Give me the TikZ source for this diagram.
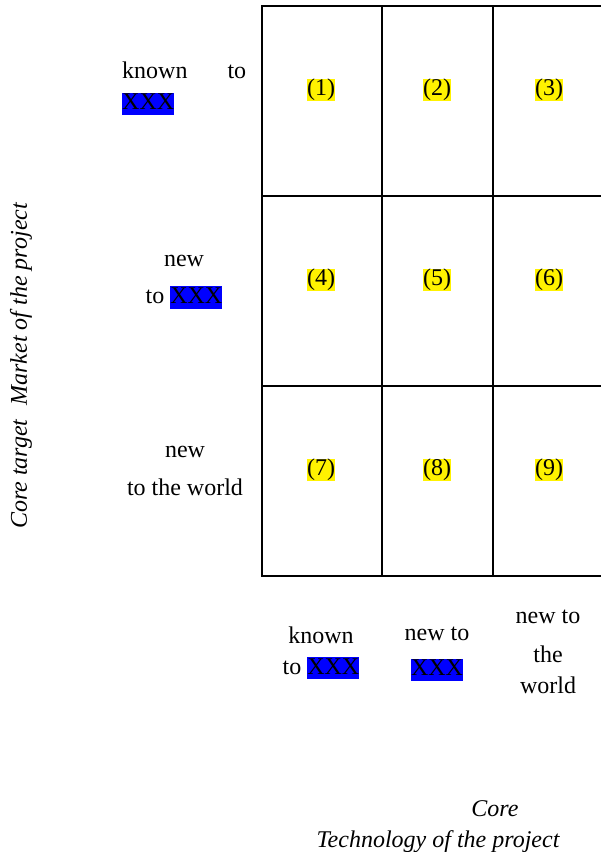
\documentclass[tikz,border=0pt]{standalone}
\usepackage{fontspec}
\setmainfont{Liberation Serif}
\newcommand{\bluemark}[1]{{\setlength{\fboxsep}{0pt}\colorbox{blue}{\rule[-0.22em]{0pt}{0.93em}#1}}}
\newcommand{\cellmark}[1]{{\setlength{\fboxsep}{0pt}\colorbox{yellow}{\rule[-0.22em]{0pt}{0.93em}#1}}}
\begin{document}
\begin{tikzpicture}[x=1pt,y=-1pt,
  every node/.style={font=\fontsize{24}{31}\selectfont, inner sep=0pt},
  gridline/.style={line width=2pt},
  axistitle/.style={font=\fontsize{24}{31}\selectfont\itshape}]
\useasboundingbox (0,0) rectangle (601,852);
\draw[gridline] (601,6) -- (262,6) -- (262,576) -- (601,576);
\draw[gridline] (262,196) -- (601,196);
\draw[gridline] (262,386) -- (601,386);
\draw[gridline] (382,6) -- (382,576);
\draw[gridline] (493,6) -- (493,576);
\foreach \num/\cx/\cy in {1/321/90, 2/437/90, 3/549/90,
                          4/321/280, 5/437/280, 6/549/280,
                          7/321/470, 8/437/470, 9/549/470}
  \node (cell\num) at (\cx,\cy) {\cellmark{(\num)}};
\node[text width=124pt, align=left, anchor=north west] (rowknown) at (122,62) {known\hfill to\\ \bluemark{XXX}};
\node[align=center] (rownewxxx) at (184,282) {new\\[6pt] to \bluemark{XXX}};
\node[align=center] (rownewworld) at (185,471) {new\\[7pt] to the world};
\node[align=center] (colknown) at (321,653) {known\\ to \bluemark{XXX}};
\node[align=center] (colnewxxx) at (437,654) {new to\\[4pt] \bluemark{XXX}};
\node[align=center] (colnewworld) at (548,652) {new to\\[8pt] the\\ world};
\node[axistitle, rotate=90] (marketaxis) at (21,366) {Core target\hspace{14pt}Market of the project};
\node[axistitle] (techcore) at (495,809) {Core};
\node[axistitle] (techtitle) at (438,842) {Technology of the project};
\end{tikzpicture}
\end{document}
